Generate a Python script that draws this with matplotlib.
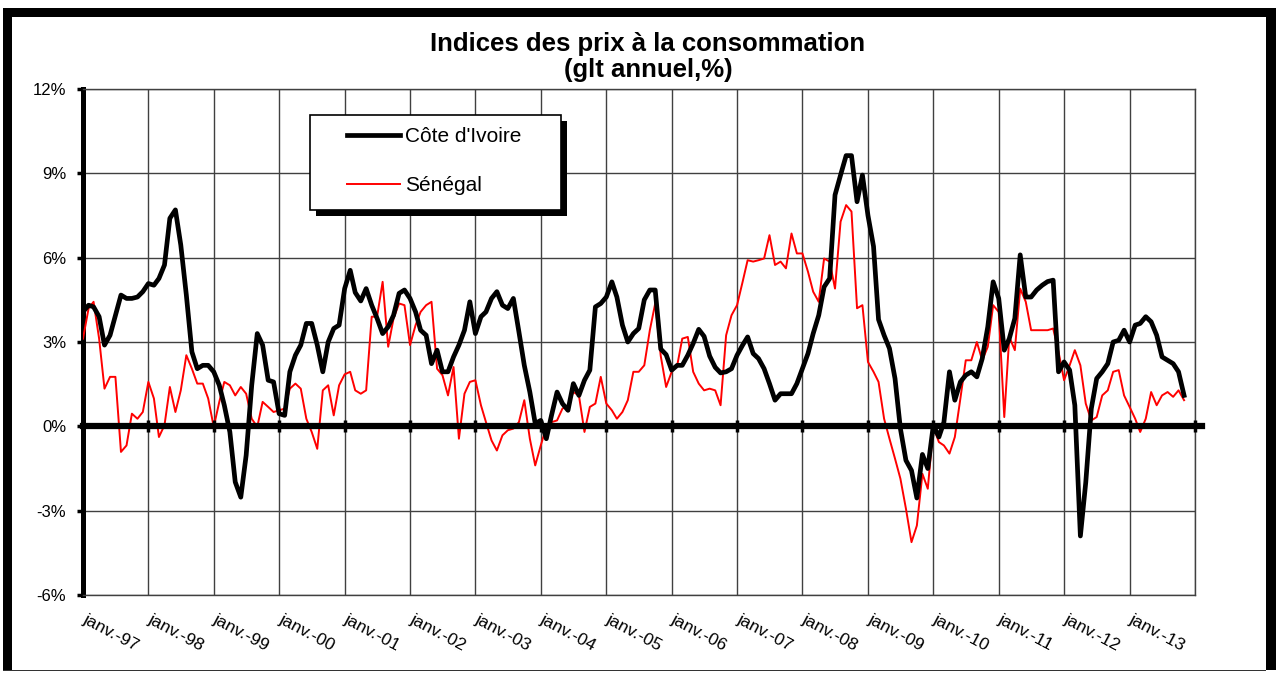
import numpy as np
import pandas as pd
import matplotlib
matplotlib.use("Agg")
import matplotlib.pyplot as plt
import matplotlib.dates as mdates
from matplotlib.patches import Rectangle
from matplotlib.ticker import FuncFormatter

plt.rcParams["font.family"] = ["Liberation Sans", "DejaVu Sans"]

# glissement annuel (%), mensuel de janv. 1997 a nov. 2013
ci = [4.07, 4.31, 4.25, 3.9, 2.89, 3.24, 3.95, 4.67, 4.55, 4.55, 4.6, 4.79,
      5.08, 5.02, 5.26, 5.74, 7.4, 7.7, 6.45, 4.67, 2.65, 2.05, 2.17, 2.17,
      1.94, 1.46, 0.75, -0.2, -1.98, -2.52, -1.03, 1.46, 3.3, 2.89, 1.64, 1.58,
      0.45, 0.39, 1.94, 2.53, 2.89, 3.66, 3.66, 2.89, 1.94, 3.0, 3.48, 3.6,
      4.9, 5.55, 4.76, 4.46, 4.9, 4.31, 3.84, 3.3, 3.54, 3.95, 4.73, 4.85,
      4.55, 4.07, 3.42, 3.24, 2.23, 2.71, 1.94, 1.94, 2.47, 2.89, 3.42, 4.43,
      3.3, 3.9, 4.07, 4.55, 4.79, 4.31, 4.19, 4.55, 3.36, 2.17, 1.22, 0.1,
      0.21, -0.44, 0.39, 1.22, 0.81, 0.57, 1.52, 1.1, 1.64, 2.0, 4.25, 4.37,
      4.6, 5.14, 4.6, 3.6, 3.0, 3.3, 3.48, 4.5, 4.85, 4.85, 2.75, 2.55,
      2.0, 2.17, 2.17, 2.53, 2.95, 3.45, 3.2, 2.5, 2.1, 1.9, 1.94, 2.05,
      2.53, 2.89, 3.18, 2.59, 2.41, 2.05, 1.52, 0.93, 1.16, 1.16, 1.16, 1.52,
      2.05, 2.59, 3.3, 3.95, 4.96, 5.26, 8.23, 8.94, 9.63, 9.63, 7.99, 8.94,
      7.5, 6.4, 3.8, 3.24, 2.77, 1.7, -0.08, -1.21, -1.57, -2.55, -1.0, -1.5,
      0.04, -0.38, 0.15, 1.94, 0.93, 1.58, 1.82, 1.94, 1.76, 2.41, 3.54, 5.14,
      4.55, 2.71, 3.12, 3.84, 6.1, 4.6, 4.6, 4.85, 5.02, 5.15, 5.2, 1.94,
      2.29, 2.0, 0.75, -3.9, -2.0, 0.63, 1.7, 1.94, 2.23, 3.0, 3.06, 3.42,
      3.0, 3.6, 3.66, 3.9, 3.72, 3.24, 2.47, 2.35, 2.23, 1.94, 1.1]

sn = [3.12, 4.19, 4.43, 3.12, 1.34, 1.76, 1.76, -0.91, -0.68, 0.45, 0.27, 0.51,
      1.58, 0.99, -0.38, 0.04, 1.4, 0.51, 1.28, 2.53, 2.05, 1.52, 1.52, 0.99,
      -0.02, 0.87, 1.58, 1.46, 1.1, 1.4, 1.16, 0.27, -0.02, 0.87, 0.69, 0.51,
      0.57, 0.63, 1.34, 1.52, 1.34, 0.27, -0.2, -0.8, 1.28, 1.46, 0.39, 1.46,
      1.85, 1.94, 1.28, 1.16, 1.28, 3.9, 3.9, 5.14, 2.83, 3.84, 4.37, 4.31,
      2.89, 3.6, 4.07, 4.31, 4.43, 2.05, 1.82, 1.1, 2.11, -0.44, 1.16, 1.58,
      1.64, 0.75, 0.15, -0.5, -0.86, -0.32, -0.14, -0.08, 0.15, 0.93, -0.44, -1.39,
      -0.68, -0.02, 0.15, 0.21, 0.63, 0.75, 1.22, 1.1, -0.2, 0.69, 0.81, 1.76,
      0.81, 0.57, 0.27, 0.51, 0.93, 1.94, 1.94, 2.17, 3.42, 4.37, 2.5, 1.4,
      1.94, 2.17, 3.12, 3.18, 1.94, 1.52, 1.28, 1.34, 1.28, 0.75, 3.24, 3.95,
      4.31, 5.14, 5.91, 5.86, 5.91, 5.97, 6.8, 5.74, 5.86, 5.62, 6.86, 6.15,
      6.15, 5.5, 4.79, 4.43, 5.97, 5.86, 4.9, 7.28, 7.87, 7.64, 4.2, 4.31,
      2.29, 1.94, 1.58, 0.27, -0.44, -1.15, -1.86, -2.93, -4.12, -3.53, -1.69, -2.22,
      -0.02, -0.56, -0.68, -0.97, -0.38, 0.99, 2.35, 2.35, 3.0, 2.35, 2.83, 4.31,
      4.07, 0.33, 3.18, 2.71, 4.9, 4.43, 3.42, 3.42, 3.42, 3.42, 3.48, 2.65,
      1.64, 2.17, 2.71, 2.17, 0.81, 0.21, 0.33, 1.1, 1.28, 1.94, 2.0, 1.1,
      0.69, 0.27, -0.2, 0.27, 1.22, 0.75, 1.1, 1.22, 1.05, 1.28, 0.93]

dates = pd.date_range("1997-01-01", periods=len(ci), freq="MS")
years = pd.date_range("1997-01-01", "2014-01-01", freq="YS")
year_labels = ["janv.-%02d" % (y % 100) for y in years.year[:-1]]
y_ticks = [-6, -3, 0, 3, 6, 9, 12]

W, H = 1276, 673


def fx(x):
    return x / W


def fy(y):
    return 1 - y / H


fig = plt.figure(figsize=(W / 100, H / 100), dpi=100)
ax = fig.add_axes([fx(83), fy(595), (1195 - 83) / W, (595 - 89) / H])

ln_ci, = ax.plot(dates, ci, color="black", lw=3.4, zorder=4,
                 solid_joinstyle="round", label="Côte d'Ivoire")
ln_sn, = ax.plot(dates, sn, color="red", lw=1.4, zorder=3, label="Sénégal")

ax.set_xlim(years[0], years[-1])
ax.set_ylim(-6, 12)
ax.set_xticks(years)
ax.set_yticks(y_ticks)
ax.yaxis.set_major_formatter(FuncFormatter(lambda v, p: "%d%%" % v))
ax.grid(True, color="#404040", lw=1.0, zorder=0)

for side in ["top", "right", "bottom"]:
    ax.spines[side].set_color("#404040")
    ax.spines[side].set_linewidth(1.0)
ax.spines["left"].set_linewidth(3.6)
ax.spines["left"].set_color("black")

ax.tick_params(axis="x", length=0, labelbottom=False)
ax.tick_params(axis="y", length=4, width=2.5, labelsize=12, pad=8)

# axe des abscisses sur le zero
ax.axhline(0, color="black", lw=4.5, xmax=1.006, clip_on=False, zorder=5)
ax.plot(years, np.zeros(len(years)), ls="none", marker="|", ms=9, mew=2.5,
        color="black", clip_on=False, zorder=5)

for d, lab in zip(years[:-1], year_labels):
    ax.annotate(lab, xy=(mdates.date2num(d), 0), xycoords=ax.get_xaxis_transform(),
                xytext=(3, -12), textcoords="offset points", rotation=-28,
                rotation_mode="anchor", ha="left", va="top", fontsize=12.5)

# cadre de legende avec ombre
fig.add_artist(Rectangle((fx(316), fy(216)), 251 / W, 95 / H, facecolor="black",
                         edgecolor="none", zorder=2))
fig.add_artist(Rectangle((fx(310), fy(210)), 251 / W, 95 / H, facecolor="white",
                         edgecolor="black", lw=1.2, zorder=3))
fig.legend([ln_ci, ln_sn], ["Côte d'Ivoire", "Sénégal"], loc="center left",
           bbox_to_anchor=(fx(347), fy(161)), bbox_transform=fig.transFigure,
           frameon=False, borderpad=0, borderaxespad=0, handlelength=2.55,
           handletextpad=0.25, labelspacing=1.45, fontsize=15)

fig.text(fx(648), fy(57), "Indices des prix à la consommation\n(glt annuel,%)",
         ha="center", va="center", fontsize=18.5, fontweight="bold", linespacing=1.1)

# bordure exterieure
fig.add_artist(Rectangle((fx(3), fy(17)), 1273 / W, 9 / H, color="black", lw=0))
fig.add_artist(Rectangle((fx(3), fy(670)), 9 / W, 662 / H, color="black", lw=0))
fig.add_artist(Rectangle((fx(1266), fy(670)), 10 / W, 662 / H, color="black", lw=0))
fig.add_artist(Rectangle((fx(3), fy(671)), 1263 / W, 1.5 / H, color="#333333", lw=0))

fig.savefig("out.png", dpi=100)
